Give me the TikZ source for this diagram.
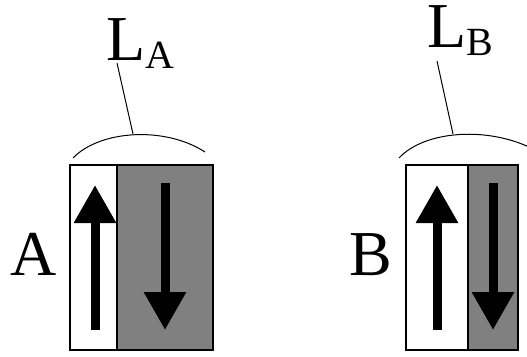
\documentclass[tikz,border=0pt]{standalone}
\usepackage{fontspec}
\setmainfont{Liberation Serif}
\usetikzlibrary{arrows.meta, positioning}

\newcommand{\lowsub}[1]{\raisebox{-8pt}{\fontsize{40}{40}\selectfont #1}}

\begin{document}
\begin{tikzpicture}[
  x=1pt, y=-1pt,
  cell/.style={draw, line width=1.5pt},
  spin/.style={line width=9pt, -{Triangle[length=38pt, width=40pt]}},
  lead/.style={draw, line width=1pt},
  big/.style={inner sep=0pt, font=\fontsize{64}{64}\selectfont}
]
\useasboundingbox (0,0) rectangle (527,356);
% domain A
\draw[cell, fill=white] (70,165) rectangle (117,350);
\draw[cell, fill=gray] (117,165) rectangle (213,350);
\coordinate (upAa) at (95,330);
\coordinate (upAb) at (95,185);
\coordinate (dnAa) at (165,183);
\coordinate (dnAb) at (165,330);
\draw[spin] (upAa) -- (upAb);
\draw[spin] (dnAa) -- (dnAb);
\node[big, anchor=base west] (A) at (10,275) {A};
% domain B
\draw[cell, fill=white] (406,165) rectangle (468,350);
\draw[cell, fill=gray] (468,165) rectangle (518,350);
\coordinate (upBa) at (437,330);
\coordinate (upBb) at (437,185);
\coordinate (dnBa) at (493,183);
\coordinate (dnBb) at (493,330);
\draw[spin] (upBa) -- (upBb);
\draw[spin] (dnBa) -- (dnBb);
\node[big, anchor=base west] (B) at (349,275) {B};
% lengths
\coordinate (topA) at (133,134);
\coordinate (topB) at (453,134);
\draw[lead] (73,158) .. controls (100,130) and (165,126) .. (205,152);
\draw[lead] (399,158) .. controls (425,130) and (490,126) .. (535,150);
\node[big, anchor=base west] (LA) at (106,60) {L\lowsub{A}};
\node[big, anchor=base west] (LB) at (427,47) {L\lowsub{B}};
\coordinate (footA) at (117,63);
\coordinate (footB) at (437,61);
\draw[lead] (topA) -- (footA);
\draw[lead] (topB) -- (footB);
\end{tikzpicture}
\end{document}
